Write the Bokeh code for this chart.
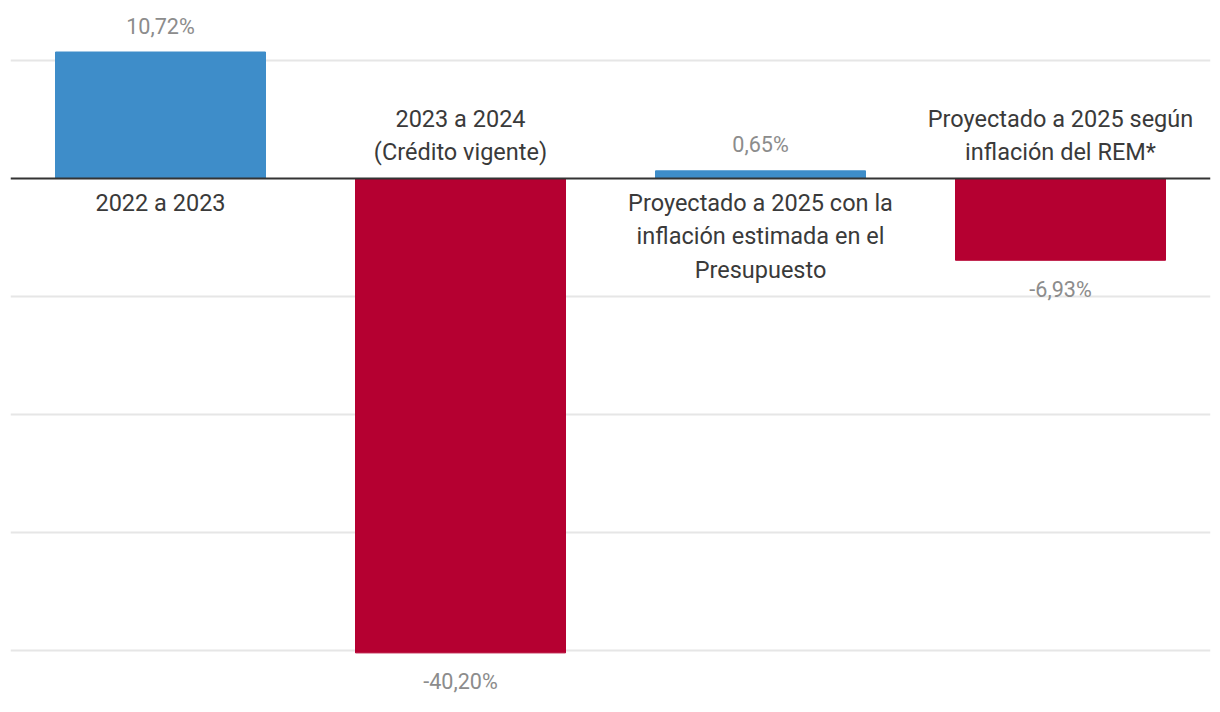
from bokeh.plotting import figure
from bokeh.models import ColumnDataSource, FixedTicker, Span
from bokeh.core.properties import value
from bokeh.embed import file_html
from bokeh.resources import INLINE

categories = ["2022 a 2023",
              "2023 a 2024\n(Crédito vigente)",
              "Proyectado a 2025 con la\ninflación estimada en el\nPresupuesto",
              "Proyectado a 2025 según\ninflación del REM*"]
values = [10.72, -40.20, 0.65, -6.93]
value_labels = ["10,72%", "-40,20%", "0,65%", "-6,93%"]
grid_ticks = [-40, -30, -20, -10, 10]

BLUE = "#3e8dc9"
RED = "#b50031"

xpos = [i + 0.5 for i in range(len(categories))]
colors = [BLUE if v >= 0 else RED for v in values]

src = ColumnDataSource(dict(x=xpos, top=values, color=colors))

p = figure(width=1212, height=704, output_backend="svg", toolbar_location=None,
           x_range=(0, 4), y_range=(-44.576, 14.407),
           min_border_left=10, min_border_right=2, min_border_top=8, min_border_bottom=0)
p.outline_line_color = None
p.xaxis.visible = False
p.yaxis.visible = False
p.xgrid.visible = False
p.ygrid.ticker = FixedTicker(ticks=grid_ticks)
p.ygrid.grid_line_color = "#e6e6e6"
p.ygrid.grid_line_width = 2

p.vbar(x="x", top="top", bottom=0, width=0.7, color="color", source=src)

p.add_layout(Span(location=0, dimension="width", line_color="#333333", line_width=2))

pos = [i for i, v in enumerate(values) if v >= 0]
neg = [i for i, v in enumerate(values) if v < 0]

def sub(idx):
    return ColumnDataSource(dict(x=[xpos[i] for i in idx], y=[values[i] for i in idx],
                                 cat=[categories[i] for i in idx], lab=[value_labels[i] for i in idx],
                                 z=[0] * len(idx)))

sp, sn = sub(pos), sub(neg)

vfont = value("Roboto")
p.text(x="x", y="y", text="lab", source=sp, text_align="center", text_baseline="middle",
       y_offset=-26, text_font=vfont, text_font_size="21.6px", text_color="#8c8c8c")
p.text(x="x", y="y", text="lab", source=sn, text_align="center", text_baseline="middle",
       y_offset=29, text_font=vfont, text_font_size="21.6px", text_color="#8c8c8c")

cfont = value("Roboto")
p.text(x="x", y="z", text="cat", source=sp, text_align="center", text_baseline="top",
       y_offset=10, text_font=cfont, text_font_size="23.5px", text_color="#3a3a3a",
       text_line_height=1.2)
p.text(x="x", y="z", text="cat", source=sn, text_align="center", text_baseline="bottom",
       y_offset=-12, text_font=cfont, text_font_size="23.5px", text_color="#3a3a3a",
       text_line_height=1.2)

open("out.html", "w").write(file_html(p, INLINE))
